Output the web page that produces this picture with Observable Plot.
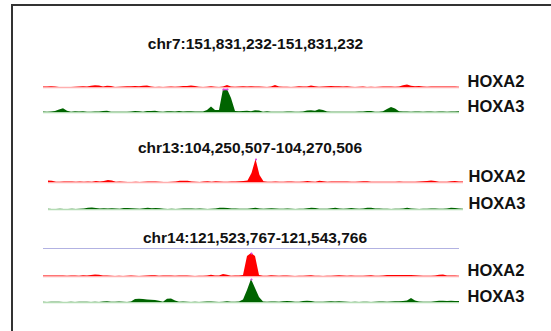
<!DOCTYPE html>
<html><head><meta charset="utf-8">
<script src="https://cdn.jsdelivr.net/npm/d3@7"></script>
<script src="https://cdn.jsdelivr.net/npm/@observablehq/plot@0.6"></script>
<style>
html,body{margin:0;padding:0;background:#fff;}
#chart{position:relative;width:551px;height:331px;overflow:hidden;font-family:"Liberation Sans",Arial,sans-serif;background:#fff;}
.frame{position:absolute;left:11px;top:4px;width:600px;height:400px;border-left:2px solid #333;border-top:2px solid #333;}
.title{position:absolute;font-weight:bold;font-size:15.5px;line-height:1;color:#111;white-space:nowrap;transform:translateX(-50%);}
.sep{position:absolute;border-top:1px solid #b2b2e2;height:0;}
.track{position:absolute;left:0;}
</style></head><body><div id="chart"></div>
<script>
// ---- data ----
const regionTitles = ["chr7:151,831,232-151,831,232", "chr13:104,250,507-104,270,506", "chr14:121,523,767-121,543,766"];
const trackNames = ["HOXA2", "HOXA3"];

const chr7HOXA2 = [0.5,0.6,0.8,0.4,0,0,0,0,0.2,0.6, 0.8,0.6,1.2,1.8,1.5,0.4,1.2,1.0,0,0.2, 0.4,0.8,0.8,1.0,0.8,1.2,1.5,0.5,0,0.2, 0,0.2,0.6,0.3,0.5,0.9,1.0,1.4,1.0,0.2, 0,0.3,0.8,0.2,0,0.6,2.0,0.6,0.2,0.5, 0.8,0.6,0.8,0.4,0.6,0.2,0,0.6,2.0,0.4, 0.2,0.3,0,0.2,0.8,0.6,0.5,1.5,0.8,0.2, 0.4,0.8,1.0,0.8,0.8,0.6,0.8,0.2,0,0.3, 0.4,0,0.2,0,0.3,0.5,0.6,0.4,0.2,0.6, 1.8,2.4,1.2,0.8,1.0,0.6,0.2,0.5,0.6,0.4, 0.6,0.5,0.4,0.6,0.3];
const chr7HOXA3 = [0.5,0.3,0.5,1.0,2.5,3.8,1.2,0.3,0.8,0.6, 0.8,0.3,0.2,0.4,0.5,1.0,1.2,0.3,0.2,0.3, 0.2,0.3,0.6,1.0,0.8,0.3,0.9,1.0,1.2,0.6, 0.3,0.8,0.7,0.6,1.0,0.4,0.7,0.8,0.6,0.6, 0.5,2.0,5.5,2.0,2.0,30,30,14,1.0,0.8, 1.0,1.2,0.8,1.8,1.5,0.3,0.8,0.3,0.2,0.3, 0.2,0.4,0.5,0.2,0.3,0.6,1.5,1.8,1.2,2.8, 2.0,0.5,0.3,0.2,0.3,0.2,0.3,0.2,0.3,0.4, 0.6,1.0,1.0,0.3,0.2,0.8,3.0,5.0,3.5,0.8, 0.4,0.5,0.3,0.5,0.4,0.3,0.4,0.5,0.3,0.4, 0.5,0.3,0.4,0.5,0.8];

const chr13HOXA2 = [1.5,1.2,0.2,0.3,0.5,0.4,0.5,0.3,0.4,0.3, 0.4,0.2,1.0,0.6,1.0,2.0,1.6,0.3,0.6,0.2, 0,0,0.2,0,0.3,0.5,0.5,0.5,0.2,0, 0,0.2,0.6,1.2,1.3,1.2,0.6,0.2,0,0.5, 0.8,0.3,0.8,0.4,0.2,0.3,0.5,0.6,0.8,1.0, 1.5,9,24,7,0.8,0.2,0.3,0.5,0.2,0.3, 0.5,0.4,0.2,0.3,0.6,1.0,0.4,0.3,1.2,0.8, 0.3,0.6,0.6,0.5,0.6,0.5,0.2,0.3,0.6,0.8, 0.7,0.3,0.2,0.2,0.3,0.2,0.3,0.3,0.5,0.2, 0.3,0.2,0.3,0.4,0.8,1.0,1.4,0.9,0.3,0.2, 0.3,0.8,1.0,0.6,0.4];
const chr13HOXA3 = [0.2,0,0,0.2,0,0,0.2,0,0.3,0.6, 1.2,1.5,1.0,0.6,0.8,0.6,0.8,0.6,0.3,1.0, 1.0,0.8,0.6,0.2,0.8,1.2,0.8,1.0,0.8,0.2, 0,0.2,0,0.2,0.4,0.6,0.5,0.2,0.4,0.2, 0,0.2,0.6,1.2,1.3,1.0,0.4,0.5,0.2,0.2, 0.3,0.8,1.2,0.4,0.2,0.5,0.8,0.6,0.3,0.2, 0.4,0.2,0,0.2,0.3,0.8,1.3,1.0,0.3,0.2, 0.3,0.8,1.2,0.4,0.2,0.6,1.0,0.5,0.2,0.4, 1.2,1.3,0.4,0.5,0.3,0.2,0,0.2,0.3,0.6, 1.2,0.6,0.2,0,0.2,0.3,0.5,0.4,0.2,0.3, 0.6,1.2,1.0,0.5,0.2];

const chr14HOXA2 = [0.5,0.6,0.4,0.6,0.5,0.6,0.2,0.4,0.5,0.3, 0.8,0.6,1.0,1.4,1.2,0.6,0.6,0.2,0,0.2, 0,0.2,0.5,0.2,0,0.2,0.4,0.8,0.8,0.3, 0.6,0.6,0.5,0.2,0.4,0.6,0.4,0.2,0,0.2, 0.2,0.6,1.2,0.5,0.6,2.0,1.2,0.2,0.6,0.6, 1.0,20,30,20,1.0,0.3,0.2,0.8,0.6,0.2, 0.4,0.4,0.2,0,0.2,0.2,0.6,0.8,0.3,0.2, 0,0.2,0.3,0.5,0.8,0.6,0.2,0.4,0.3,0.2, 0.3,0.6,0.8,0.2,0.2,0.6,1.0,1.0,0.9,1.0, 1.0,0.9,1.0,0.8,0.6,0.2,0.3,0.2,0.5,1.2, 1.4,0.5,0.5,0.4,0.2];
const chr14HOXA3 = [0.2,0,0.3,0.3,0.2,0,0,0.2,0,0.2, 0.3,0.3,0,0.2,0,0.4,0.8,0.3,0.2,0.5, 0.2,0,0.5,3.0,3.2,3.0,2.5,2.2,2.0,1.2, 0.3,3.2,3.5,1.5,0.3,0.5,0.2,0,0.2,0, 0.2,0.6,0.6,0.2,0,0.3,0.8,0.3,0.2,0.5, 2.5,12,24,14,5,0.5,0.3,0.5,0.4,0.2, 0.8,1.0,0.8,0.2,0.3,1.0,1.2,1.0,0.3,0.2, 0.2,0.4,0.8,0.4,0.8,0.6,0.2,0,0.2,0, 0.2,0.2,0,0.2,0.5,0.6,0.3,0.6,0.8,0.8, 1.0,1.5,4.0,1.5,0.6,0.2,0.2,0.3,0.8,1.2, 1.2,1.0,1.2,1.1,1.0];

const panels = [
  {title: regionTitles[0], series: [chr7HOXA2, chr7HOXA3]},
  {title: regionTitles[1], series: [chr13HOXA2, chr13HOXA3]},
  {title: regionTitles[2], series: [chr14HOXA2, chr14HOXA3]}
];

// ---- layout & style ----
const YMAX = 23;
const fills = ["#ff0000", "#006400"];
const baseColors = ["#ffb0b0", "#b4dcb4"];
const layout = [
  {titleX: 255.5, titleTop: 36, x0: 43, x1: 459, labelX: 467, tops: [62, 87]},
  {titleX: 250, titleTop: 140, x0: 48, x1: 463, labelX: 468, tops: [157, 184]},
  {titleX: 255, titleTop: 230, x0: 43, x1: 459, labelX: 467, tops: [251, 277], sep: 248}
];

const chart = document.getElementById("chart");
const frame = document.createElement("div");
frame.className = "frame";
chart.appendChild(frame);

function trackPlot(values, k, L, name) {
  const data = values.map((v, i) => ({i, v}));
  const n = values.length - 1;
  return Plot.plot({
    width: 551, height: 27,
    marginTop: 2, marginBottom: 2, marginLeft: L.x0, marginRight: 551 - L.x1,
    style: {fontFamily: "'Liberation Sans', Arial, sans-serif", background: "transparent", overflow: "visible"},
    x: {domain: [0, n], axis: null},
    y: {domain: [0, YMAX], axis: null, clamp: true},
    marks: [
      Plot.ruleY([0], {stroke: baseColors[k], strokeWidth: 1.5}),
      Plot.areaY(data, {x: "i", y: "v", fill: fills[k], curve: "linear"}),
      Plot.lineY(data, {x: "i", y: () => YMAX, filter: d => d.v >= YMAX, stroke: "#dd44dd", strokeWidth: 1.5}),
      Plot.dot(data, {x: "i", y: () => YMAX, filter: d => d.v >= YMAX, r: 1, fill: "#dd44dd"}),
      Plot.text([name], {frameAnchor: "bottom-right", dx: L.labelX - L.x1, dy: -0.5, text: d => d, textAnchor: "start", lineAnchor: "bottom", fontSize: 16.5, fontWeight: "bold", fill: "#111"})
    ]
  });
}

panels.forEach((p, pi) => {
  const L = layout[pi];
  const t = document.createElement("div");
  t.className = "title";
  t.textContent = p.title;
  t.style.left = L.titleX + "px";
  t.style.top = L.titleTop + "px";
  chart.appendChild(t);
  if (L.sep !== undefined) {
    const s = document.createElement("div");
    s.className = "sep";
    s.style.left = L.x0 + "px";
    s.style.width = (L.x1 - L.x0) + "px";
    s.style.top = L.sep + "px";
    chart.appendChild(s);
  }
  p.series.forEach((vals, k) => {
    const svg = trackPlot(vals, k, L, trackNames[k]);
    svg.classList.add("track");
    svg.style.top = L.tops[k] + "px";
    chart.appendChild(svg);
  });
});
</script></body></html>
